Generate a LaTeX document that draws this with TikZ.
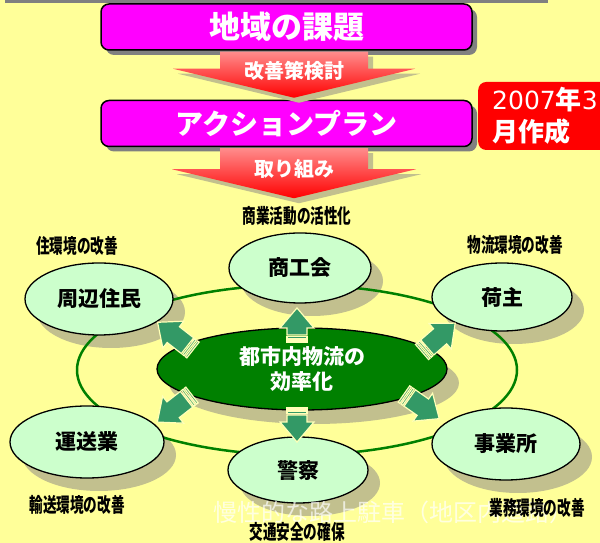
\documentclass[tikz,border=0pt]{standalone}
\usepackage{fontspec}
\newfontfamily\jp{Noto Sans CJK JP}
\newfontfamily\dv{DejaVu Sans}
\usetikzlibrary{shapes.geometric,calc}
\definecolor{bgyellow}{HTML}{FFFF99}
\definecolor{magbox}{HTML}{FF00FF}
\definecolor{satgreen}{HTML}{CCFFCC}
\definecolor{hubgreen}{HTML}{008000}
\definecolor{arrowgreen}{HTML}{339966}
\definecolor{paleline}{HTML}{FFFFB8}
\definecolor{shadowc}{HTML}{C2C08E}
\newcommand\squeeze[1]{\scalebox{0.68}[1]{#1}}
% block arrow: tail, angle, length
\newcommand\blockarrow[3]{%
  \begin{scope}[shift={#1},rotate=#2]
    \filldraw[barrow] (7,-10) -- ({#3-20},-10) -- ({#3-20},-17) -- (#3,0)
      -- ({#3-20},17) -- ({#3-20},10) -- (7,10) -- cycle;
    \filldraw[barrow] (0,-10) rectangle (2,10);
    \filldraw[barrow] (3.5,-10) rectangle (5.5,10);
  \end{scope}}
\tikzset{
  titlebox/.style={draw=black,line width=1.5pt,fill=magbox,rounded corners=8pt,
    minimum width=371pt,minimum height=46pt,text=white,
    preaction={fill=gray,transform canvas={xshift=5pt,yshift=-5pt}}},
  redarrow/.style={top color=red!45,bottom color=red,
    preaction={fill=shadowc,transform canvas={xshift=5pt,yshift=-5pt}}},
  sat/.style={ellipse,draw=black,line width=1.3pt,fill=satgreen,
    font=\jp\bfseries\fontsize{21}{21}\selectfont},
  note/.style={font=\jp\bfseries\fontsize{20}{20}\selectfont},
  barrow/.style={fill=arrowgreen,draw=paleline,line width=1.2pt,line join=miter},
}
\begin{document}
\begin{tikzpicture}[x=1pt,y=1pt,line join=round]
\fill[bgyellow] (0,0) rectangle (600,543);
\clip (0,0) rectangle (600,543);
\fill[gray] (5,540) rectangle (548,543);

% upper part
\node[titlebox,font=\jp\bfseries\fontsize{31}{31}\selectfont] (issue) at (286.5,516) {地域の課題};
\node[titlebox,font=\jp\bfseries\fontsize{28}{28}\selectfont] (plan) at (286.5,419.5) {アクションプラン};
\node[fill=red,rounded corners=8pt,anchor=west,minimum height=68pt,text width=124pt,
  inner xsep=14pt,align=left,text=white,font=\jp\bfseries\fontsize{26}{32}\selectfont]
  (date) at (478,427) {{\dv\mdseries\fontsize{25}{32}\selectfont 2007}年{\dv\mdseries\fontsize{25}{32}\selectfont 3}\\月作成};

\begin{scope}[shift={($(issue.south)+(7.5,0)$)}]
  \path[redarrow] (-74,-0.8) -- (74,-0.8) -- (74,-18) -- (121,-18) -- (0,-47)
    -- (-121,-18) -- (-74,-18) -- cycle;
  \node[text=white,font=\jp\bfseries\fontsize{20}{20}\selectfont] (step1) at (0,-20) {改善策検討};
\end{scope}
\begin{scope}[shift={($(plan.south)+(7.5,0)$)}]
  \path[redarrow] (-74,-0.8) -- (74,-0.8) -- (74,-22) -- (122,-22) -- (0,-51)
    -- (-122,-22) -- (-74,-22) -- cycle;
  \node[text=white,font=\jp\bfseries\fontsize{20}{20}\selectfont] (step2) at (0,-22) {取り組み};
\end{scope}

% shadows, then ring
\fill[shadowc] (312,262) ellipse [x radius=71,y radius=35];
\fill[shadowc] (111,231) ellipse [x radius=74,y radius=36];
\fill[shadowc] (514,233) ellipse [x radius=70,y radius=34];
\fill[shadowc] (99,88) ellipse [x radius=77,y radius=36];
\fill[shadowc] (310,60) ellipse [x radius=70,y radius=33];
\fill[shadowc] (518,86) ellipse [x radius=74,y radius=36];
\fill[shadowc] (314,160) ellipse [x radius=145,y radius=41];
\draw[hubgreen,line width=2.5pt] (297,173) ellipse [x radius=220,y radius=85];

\node[sat,minimum width=142pt,minimum height=70pt] (shoko) at (300,275) {商工会};
\node[sat,minimum width=148pt,minimum height=72pt] (jumin) at (99,244) {周辺住民};
\node[sat,minimum width=140pt,minimum height=68pt] (ninushi) at (502,246) {荷主};
\node[sat,minimum width=154pt,minimum height=72pt] (unso) at (87,101) {運送業};
\node[sat,minimum width=140pt,minimum height=66pt] (keisatsu) at (298,73) {警察};
\node[sat,minimum width=148pt,minimum height=72pt] (jigyo) at (506,99) {事業所};
\node[sat,fill=hubgreen,text=white,align=center,minimum width=290pt,minimum height=82pt,
  font=\jp\bfseries\fontsize{21}{25}\selectfont] (hub) at (302,174) {都市内物流の\\効率化};

\blockarrow{(297,201)}{90}{34}
\blockarrow{(297,135)}{270}{34}
\blockarrow{(193,193)}{142}{45}
\blockarrow{(422,191)}{41}{44}
\blockarrow{(192,148)}{218}{44}
\blockarrow{(404,149)}{325}{43}

\node[anchor=west,text=white,text opacity=0.7,inner sep=0pt,
  font=\jp\fontsize{24}{24}\selectfont] (overlay) at (213,31) {慢性的な路上駐車（地区内道路）};

% labels
\node[note] (shokolbl) at (297,327) {\squeeze{商業活動の活性化}};
\node[note] (juminlbl) at (77,297) {\squeeze{住環境の改善}};
\node[note] (ninushilbl) at (515,298) {\squeeze{物流環境の改善}};
\node[note] (unsolbl) at (77,38) {\squeeze{輸送環境の改善}};
\node[note] (jigyolbl) at (537,35) {\squeeze{業務環境の改善}};
\node[note] (keisatsulbl) at (297,11) {\squeeze{交通安全の確保}};
\end{tikzpicture}
\end{document}
